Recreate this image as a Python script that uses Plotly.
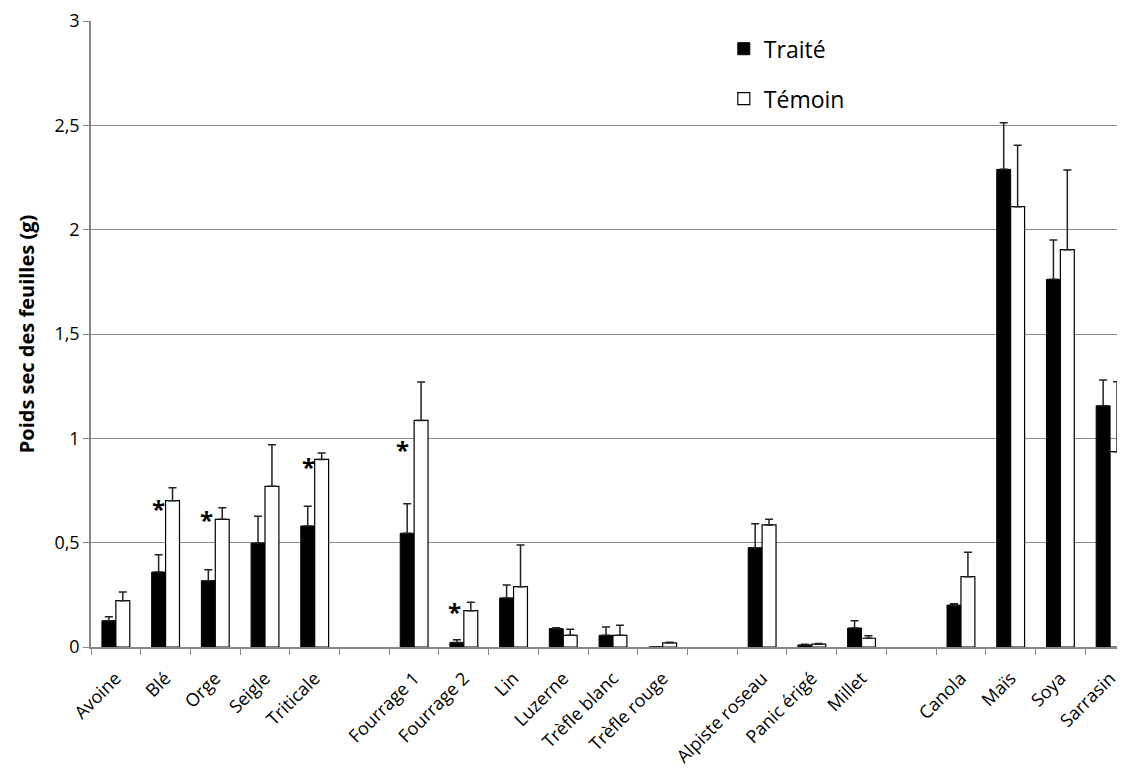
import plotly.graph_objects as go

# Species grouped (gaps between groups on the axis)
groups = [
    ["Avoine", "Blé", "Orge", "Seigle", "Triticale"],
    ["Fourrage 1", "Fourrage 2", "Lin", "Luzerne", "Trèfle blanc", "Trèfle rouge"],
    ["Alpiste roseau", "Panic érigé", "Millet"],
    ["Canola", "Maïs", "Soya", "Sarrasin"],
]
species = [s for g in groups for s in g]

traite = [0.126, 0.359, 0.318, 0.498, 0.580,
          0.545, 0.022, 0.235, 0.088, 0.056, 0.0,
          0.476, 0.010, 0.091,
          0.201, 2.289, 1.762, 1.156]
traite_err = [0.019, 0.083, 0.052, 0.128, 0.094,
              0.142, 0.013, 0.062, 0.004, 0.040, 0.0,
              0.115, 0.003, 0.035,
              0.006, 0.223, 0.188, 0.123]
temoin = [0.222, 0.701, 0.612, 0.770, 0.899,
          1.086, 0.174, 0.289, 0.056, 0.056, 0.020,
          0.585, 0.014, 0.042,
          0.337, 2.110, 1.904, 0.936]
temoin_err = [0.042, 0.062, 0.055, 0.199, 0.031,
              0.184, 0.040, 0.200, 0.029, 0.048, 0.003,
              0.027, 0.003, 0.012,
              0.117, 0.294, 0.382, 0.335]

# significance stars
star_species = ["Blé", "Orge", "Triticale", "Fourrage 1", "Fourrage 2"]
star_y = [0.666, 0.612, 0.867, 0.947, 0.172]
star_xshift = [-7, -9, -6, -12, -9]

y_ticks = [0, 0.5, 1, 1.5, 2, 2.5, 3]

# category order with blank gap slots
cat_order = []
for i, g in enumerate(groups):
    if i > 0:
        cat_order.append(" " * i)
    cat_order.extend(g)

FONT = "Open Sans"

fig = go.Figure()
fig.add_trace(go.Bar(
    x=species, y=traite, name="Traité",
    marker=dict(color="black", line=dict(color="black", width=1)),
    error_y=dict(type="data", array=traite_err, arrayminus=[0] * len(traite),
                 symmetric=False, color="#222222", thickness=1.5, width=4),
    legendgroup="a",
))
fig.add_trace(go.Bar(
    x=species, y=temoin, name="Témoin",
    marker=dict(color="white", line=dict(color="black", width=1.2)),
    error_y=dict(type="data", array=temoin_err, arrayminus=[0] * len(temoin),
                 symmetric=False, color="#222222", thickness=1.5, width=4),
    legendgroup="b",
))

for s, yv, dx in zip(star_species, star_y, star_xshift):
    fig.add_annotation(x=s, y=yv, text="<b>*</b>", showarrow=False,
                       xshift=dx, font=dict(size=24, color="black", family=FONT))

fig.update_layout(
    width=1117, height=771,
    margin=dict(l=83, r=0, t=13, b=132),
    paper_bgcolor="white", plot_bgcolor="white",
    barmode="group", bargap=0.44, bargroupgap=0,
    separators=", ",
    font=dict(family=FONT, color="black"),
    legend=dict(x=0.612, y=0.99, xanchor="left", yanchor="top",
                font=dict(size=23, family=FONT), tracegroupgap=17,
                traceorder="grouped", bgcolor="rgba(0,0,0,0)"),
    xaxis=dict(
        type="category", categoryorder="array", categoryarray=cat_order,
        range=[-0.5, 20.3], tickangle=-45, tickson="boundaries",
        ticks="outside", ticklen=6, tickcolor="#888888",
        showline=True, linecolor="#888888", linewidth=1.5,
        showgrid=False, tickfont=dict(size=18, family=FONT),
        ticklabelstandoff=12,
    ),
    yaxis=dict(
        range=[0, 3], tickvals=y_ticks, ticks="outside", ticklen=6,
        tickcolor="#888888", showline=True, linecolor="#888888", linewidth=1.5,
        showgrid=True, gridcolor="#8c8c8c", gridwidth=1, zeroline=False,
        tickfont=dict(size=18, family=FONT),
        title=dict(text="<b>Poids sec des feuilles (g)</b>",
                   font=dict(size=20, family=FONT), standoff=14),
    ),
)

fig.write_html("out.html")
